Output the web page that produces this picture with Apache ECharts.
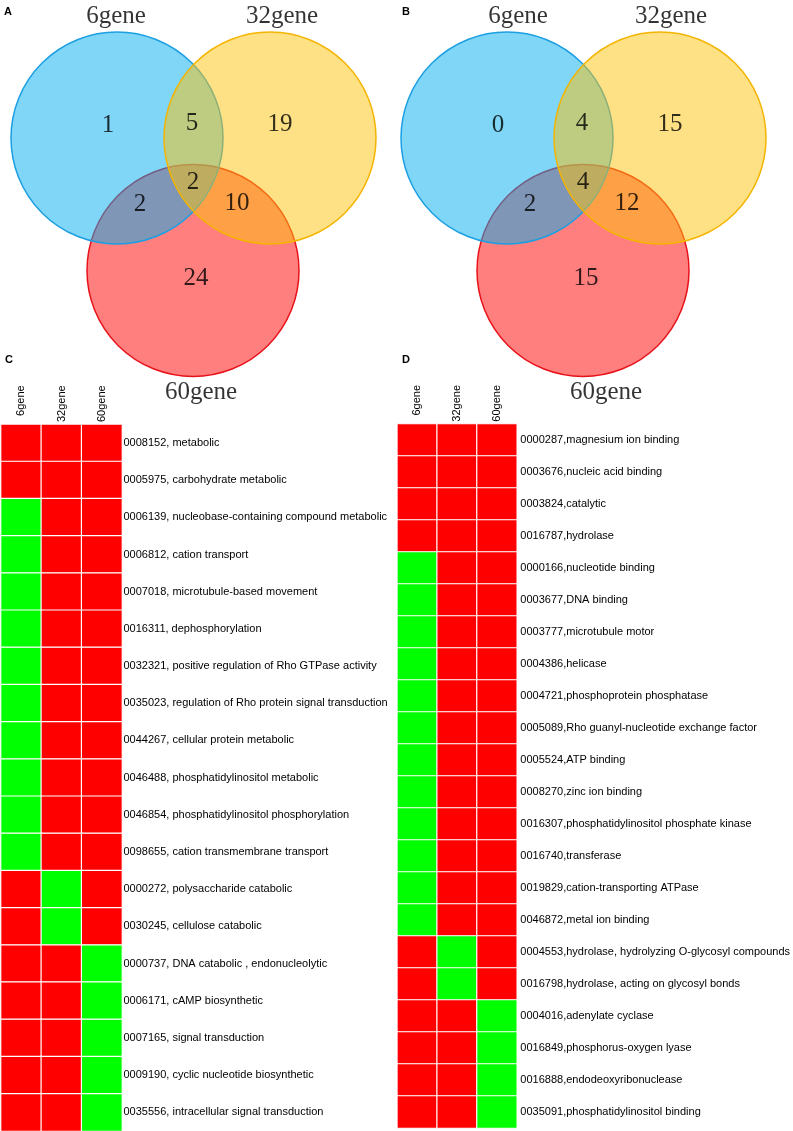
<!DOCTYPE html>
<html>
<head>
<meta charset="utf-8">
<script src="https://cdn.jsdelivr.net/npm/echarts@6/dist/echarts.min.js"></script>
<style>
  html, body { margin: 0; padding: 0; background: #fff; }
  #chart { width: 793px; height: 1131px; }
</style>
</head>
<body>
<div id="chart"></div>
<script>
// ---- data ----
const setNames = ['6gene', '32gene', '60gene'];
// venn regions: only6, 6&32, only32, 6&32&60, 6&60, 32&60, only60
const vennCountsA = [1, 5, 19, 2, 2, 10, 24];
const vennCountsB = [0, 4, 15, 4, 2, 12, 15];

const goTermsC = [
  '0008152, metabolic',
  '0005975, carbohydrate metabolic',
  '0006139, nucleobase-containing compound metabolic',
  '0006812, cation transport',
  '0007018, microtubule-based movement',
  '0016311, dephosphorylation',
  '0032321, positive regulation of Rho GTPase activity',
  '0035023, regulation of Rho protein signal transduction',
  '0044267, cellular protein metabolic',
  '0046488, phosphatidylinositol metabolic',
  '0046854, phosphatidylinositol phosphorylation',
  '0098655, cation transmembrane transport',
  '0000272, polysaccharide catabolic',
  '0030245, cellulose catabolic',
  '0000737, DNA catabolic , endonucleolytic',
  '0006171, cAMP biosynthetic',
  '0007165, signal transduction',
  '0009190, cyclic nucleotide biosynthetic',
  '0035556, intracellular signal transduction'
];
// 1 = present (red), 0 = absent (green); columns 6gene, 32gene, 60gene
const presenceC = [
  [1, 1, 1], [1, 1, 1],
  [0, 1, 1], [0, 1, 1], [0, 1, 1], [0, 1, 1], [0, 1, 1],
  [0, 1, 1], [0, 1, 1], [0, 1, 1], [0, 1, 1], [0, 1, 1],
  [1, 0, 1], [1, 0, 1],
  [1, 1, 0], [1, 1, 0], [1, 1, 0], [1, 1, 0], [1, 1, 0]
];

const goTermsD = [
  '0000287,magnesium ion binding',
  '0003676,nucleic acid binding',
  '0003824,catalytic',
  '0016787,hydrolase',
  '0000166,nucleotide binding',
  '0003677,DNA binding',
  '0003777,microtubule motor',
  '0004386,helicase',
  '0004721,phosphoprotein phosphatase',
  '0005089,Rho guanyl-nucleotide exchange factor',
  '0005524,ATP binding',
  '0008270,zinc ion binding',
  '0016307,phosphatidylinositol phosphate kinase',
  '0016740,transferase',
  '0019829,cation-transporting ATPase',
  '0046872,metal ion binding',
  '0004553,hydrolase, hydrolyzing O-glycosyl compounds',
  '0016798,hydrolase, acting on glycosyl bonds',
  '0004016,adenylate cyclase',
  '0016849,phosphorus-oxygen lyase',
  '0016888,endodeoxyribonuclease',
  '0035091,phosphatidylinositol binding'
];
const presenceD = [
  [1, 1, 1], [1, 1, 1], [1, 1, 1], [1, 1, 1],
  [0, 1, 1], [0, 1, 1], [0, 1, 1], [0, 1, 1], [0, 1, 1], [0, 1, 1],
  [0, 1, 1], [0, 1, 1], [0, 1, 1], [0, 1, 1], [0, 1, 1], [0, 1, 1],
  [1, 0, 1], [1, 0, 1],
  [1, 1, 0], [1, 1, 0], [1, 1, 0], [1, 1, 0]
];

// ---- layout (venn panel units = px inside a 400x400 panel) ----
const vennR = 106;
const vennCenters = [[117, 138], [270, 138], [193, 270.5]];
const vennRegionPos = [[108, 125], [192, 123], [280, 124], [193, 182], [140, 204], [237, 203], [196, 278]];
const vennNamePosA = [[116, 16], [282, 16], [201, 392]];
const vennNamePosB = [[128, 16], [281, 16], [216, 392]];
const vennStyles = [
  { fill: 'rgba(0,174,239,0.5)', stroke: '#1c9fe2' },
  { fill: 'rgba(253,193,12,0.5)', stroke: '#f4b400' },
  { fill: 'rgba(255,0,0,0.5)', stroke: '#e8131a' }
];
const drawOrder = [2, 0, 1];

const serif = '"Liberation Serif", "Times New Roman", serif';
const sans = 'Arial, "Liberation Sans", sans-serif';

const chart = echarts.init(document.getElementById('chart'));

function vennAxes(idx) {
  return {
    x: { type: 'value', gridIndex: idx, min: 0, max: 400, show: false },
    y: { type: 'value', gridIndex: idx, min: 0, max: 400, inverse: true, show: false }
  };
}

function vennSeries(idx, counts, namePos) {
  return [
    {
      type: 'custom',
      xAxisIndex: idx, yAxisIndex: idx,
      silent: true,
      data: drawOrder.map(i => [vennCenters[i][0], vennCenters[i][1], vennR, i]),
      renderItem: (params, api) => {
        const c = api.coord([api.value(0), api.value(1)]);
        const r = api.size([api.value(2), 0])[0];
        const st = vennStyles[api.value(3)];
        return {
          type: 'circle',
          shape: { cx: c[0], cy: c[1], r: r },
          style: { fill: st.fill, stroke: st.stroke, lineWidth: 1.5 }
        };
      }
    },
    {
      type: 'scatter',
      xAxisIndex: idx, yAxisIndex: idx,
      silent: true, symbolSize: 0, clip: false,
      data: vennRegionPos.map((p, i) => [p[0], p[1], counts[i]]),
      label: {
        show: true, position: 'inside',
        formatter: p => String(p.value[2]),
        fontSize: 25, fontFamily: serif, color: '#000'
      }
    },
    {
      type: 'scatter',
      xAxisIndex: idx, yAxisIndex: idx,
      silent: true, symbolSize: 0, clip: false,
      data: namePos.map((p, i) => [p[0], p[1], setNames[i]]),
      label: {
        show: true, position: 'inside',
        formatter: p => p.value[2],
        fontSize: 25, fontFamily: serif, color: '#000'
      }
    }
  ];
}

function heatData(presence) {
  const out = [];
  presence.forEach((row, y) => row.forEach((v, x) => out.push([x, y, v])));
  return out;
}

function heatXAxis(idx) {
  // the inverse y axis flips the rotation sense: -90 reads bottom-to-top here
  return {
    type: 'category', gridIndex: idx, position: 'top', data: setNames,
    axisLine: { show: false }, axisTick: { show: false }, splitLine: { show: false },
    axisLabel: {
      rotate: -90, align: 'right', verticalAlign: 'middle', margin: 39,
      fontSize: 11, fontFamily: sans, color: '#000'
    }
  };
}

function heatYAxis(idx, terms, margin, width) {
  return {
    type: 'category', gridIndex: idx, position: 'right', inverse: true, data: terms,
    axisLine: { show: false }, axisTick: { show: false }, splitLine: { show: false },
    axisLabel: {
      margin: margin, fontSize: 11, fontFamily: sans, color: '#000',
      width: width, overflow: 'truncate', ellipsis: ''
    }
  };
}

const axA = vennAxes(0), axB = vennAxes(1);

const series = [
  ...vennSeries(0, vennCountsA, vennNamePosA),
  ...vennSeries(1, vennCountsB, vennNamePosB),
  {
    type: 'heatmap', xAxisIndex: 2, yAxisIndex: 2, silent: true,
    data: heatData(presenceC),
    itemStyle: { borderColor: '#fff', borderWidth: 1.2 }
  },
  {
    type: 'heatmap', xAxisIndex: 3, yAxisIndex: 3, silent: true,
    data: heatData(presenceD),
    itemStyle: { borderColor: '#fff', borderWidth: 1.2 }
  }
];

const panelTitle = (t, left, top) => ({
  text: t, left: left, top: top, padding: 0,
  textStyle: { fontSize: 11, fontWeight: 'bold', fontFamily: sans, color: '#000' }
});

chart.setOption({
  backgroundColor: '#fff',
  animation: false,
  title: [
    panelTitle('A', 4, 6), panelTitle('B', 402, 6),
    panelTitle('C', 5, 354), panelTitle('D', 402, 354)
  ],
  grid: [
    { left: 0, top: 0, width: 400, height: 400 },
    { left: 390, top: 0, width: 400, height: 400 },
    { left: 1, top: 424.3, width: 121, height: 707 },
    { left: 397.3, top: 424, width: 120, height: 704 }
  ],
  xAxis: [axA.x, axB.x, heatXAxis(2), heatXAxis(3)],
  yAxis: [axA.y, axB.y, heatYAxis(2, goTermsC, 1.5, 266), heatYAxis(3, goTermsD, 3.5, 290)],
  visualMap: {
    type: 'piecewise', show: false, seriesIndex: [6, 7], dimension: 2,
    pieces: [{ value: 1, color: '#ff0000' }, { value: 0, color: '#00ff00' }]
  },
  series: series
});
window.addEventListener('resize', () => chart.resize());
</script>
</body>
</html>
